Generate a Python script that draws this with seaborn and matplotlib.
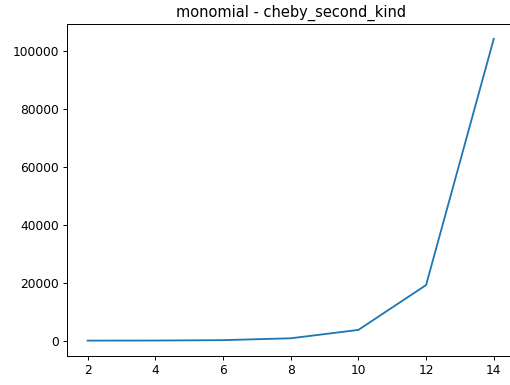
import matplotlib
matplotlib.use("Agg")
import matplotlib.pyplot as plt
import seaborn as sns
import pandas as pd

degrees = [2, 4, 6, 8, 10, 12, 14]
values = [1, 25, 160, 800, 3700, 19200, 104300]
title = "monomial - cheby_second_kind"

df = pd.DataFrame({"degree": degrees, "value": values})

DPI = 88
fig = plt.figure(figsize=(510 / DPI, 385 / DPI), dpi=DPI)
ax = fig.add_axes([0.132, 0.0761, 1.008 - 0.132, 0.9384 - 0.0761])
sns.lineplot(data=df, x="degree", y="value", ax=ax, color="#1f77b4")
ax.set_title(title)
ax.set_xlabel("")
ax.set_ylabel("")
fig.savefig("out.png", dpi=DPI)
